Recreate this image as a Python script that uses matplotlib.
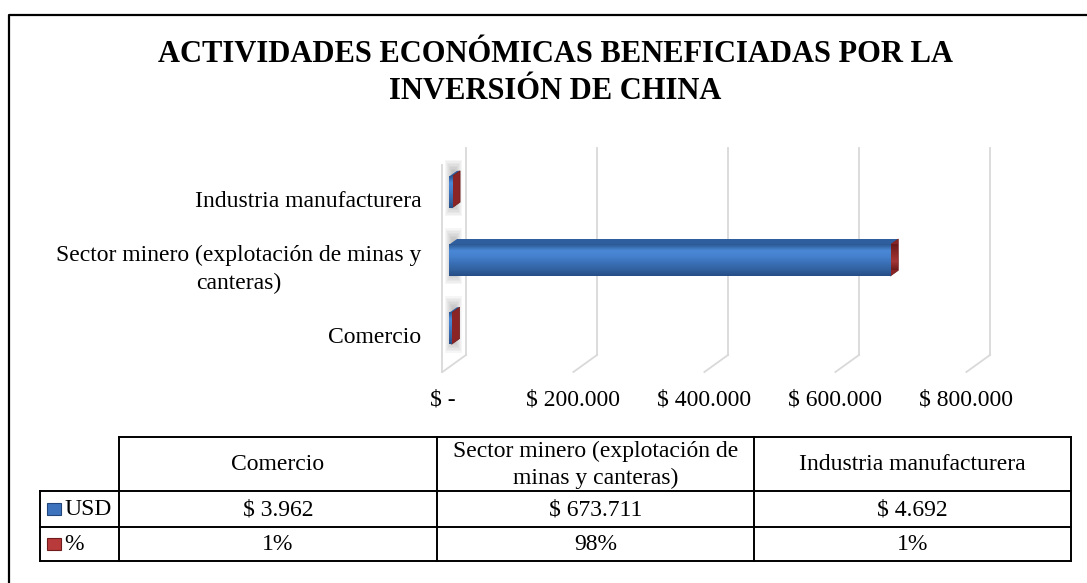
import numpy as np
import matplotlib.pyplot as plt
from matplotlib.patches import Polygon, Rectangle
from matplotlib.lines import Line2D
from matplotlib.colors import LinearSegmentedColormap

# data
categories = ['Comercio', 'Sector minero (explotación de minas y canteras)', 'Industria manufacturera']
axis_labels = ['Comercio', 'Sector minero (explotación de minas y\ncanteras)', 'Industria manufacturera']
table_headers = ['Comercio', 'Sector minero (explotación de\nminas y canteras)', 'Industria manufacturera']
usd = [3962, 673711, 4692]
pct = [1, 98, 1]
xticks = [0, 200000, 400000, 600000, 800000]
xtick_labels = ['$ -', '$ 200.000', '$ 400.000', '$ 600.000', '$ 800.000']
series_names = ['USD', '%']
title = 'ACTIVIDADES ECONÓMICAS BENEFICIADAS POR LA\nINVERSIÓN DE CHINA'

W, H = 1087, 583
plt.rcParams['font.family'] = ['Liberation Serif', 'DejaVu Serif']

fig = plt.figure(figsize=(W / 100, H / 100), dpi=100)


def fx(px):
    return px / W


def fy(py):
    return 1 - py / H


# outer frame (right / bottom edges fall outside the picture)
fig.add_artist(Line2D([fx(9), fx(9), 1.01], [-0.01, fy(15), fy(15)],
                      transform=fig.transFigure, color='black', lw=1.6))

fig.text(fx(555), fy(73), title, ha='center', va='center', fontsize=22,
         fontweight='bold', linespacing=1.4)

# --- 3D-looking bar chart ---
ax_l, ax_r, ax_t, ax_b = 466, 990, 148, 355
ax = fig.add_axes([fx(ax_l), fy(ax_b), (ax_r - ax_l) / W, (ax_b - ax_t) / H])
ax.axis('off')
xmin, xmax = 0, 800000
ymin, ymax = -0.566, 2.469
ax.set_xlim(xmin, xmax)
ax.set_ylim(ymin, ymax)
sx = (xmax - xmin) / (ax_r - ax_l)     # data units per pixel
sy = (ymax - ymin) / (ax_b - ax_t)

depth = (-23.6, 17)     # full floor depth in pixels (dx, dy down)
front = (-17, 12.2)
back = (-9, 6.5)
grid_c = '#D9D9D9'

for t in xticks:
    ax.plot([t, t], [ymin, ymax], color=grid_c, lw=1.3, clip_on=False, zorder=1)
    ax.plot([t, t + depth[0] * sx], [ymin, ymin - depth[1] * sy], color=grid_c,
            lw=1.3, clip_on=False, zorder=1)
ax.plot([depth[0] * sx] * 2, [ymin - depth[1] * sy, ymax - depth[1] * sy],
        color=grid_c, lw=1.3, clip_on=False, zorder=1)

for t, lab in zip(xticks, xtick_labels):
    ax.text(t + depth[0] * sx, ymin - (depth[1] + 28) * sy, lab, ha='center',
            va='center', fontsize=17)

bar_h = 0.46
face_cmap = LinearSegmentedColormap.from_list(
    'face', ['#2B5892', '#4A88D6', '#4480CC', '#3A6FB6', '#32629F', '#264D85'])
cap_cmap = LinearSegmentedColormap.from_list('cap', ['#6E1A1A', '#A33535', '#8A2626', '#6A1818'])
grad = np.linspace(0, 1, 64).reshape(-1, 1)

for i, v in enumerate(usd):
    y = i
    x0f, x1f = front[0] * sx, v + front[0] * sx
    x0b, x1b = back[0] * sx, v + back[0] * sx
    ybf, ytf = y - bar_h / 2 - front[1] * sy, y + bar_h / 2 - front[1] * sy
    ybb, ytb = y - bar_h / 2 - back[1] * sy, y + bar_h / 2 - back[1] * sy

    # soft shadow on the side wall, just left of the bar
    cy = y - 8 * sy
    for k in range(8):
        w_px = 3 + 2 * k
        h_half = bar_h / 2 + (2 + 1.5 * k) * sy
        ax.add_patch(Rectangle(((-13 - w_px / 2) * sx, cy - h_half), w_px * sx,
                               2 * h_half, facecolor='#707070', alpha=0.06,
                               lw=0, clip_on=False, zorder=2))

    ax.add_patch(Polygon([(x0f, ytf), (x1f, ytf), (x1b, ytb), (x0b, ytb)],
                         closed=True, facecolor='#2F5E9E', edgecolor='none',
                         clip_on=False, zorder=3))
    cap = Polygon([(x1f, ybf), (x1f, ytf), (x1b, ytb), (x1b, ybb)], closed=True,
                  facecolor='#8B2525', edgecolor='#6A1818', lw=0.5,
                  clip_on=False, zorder=3)
    ax.add_patch(cap)
    im = ax.imshow(grad[::-1], cmap=cap_cmap, aspect='auto',
                   extent=(x1f, x1b, ybb, ytf), zorder=3, clip_on=True)
    im.set_clip_path(cap)
    ax.imshow(grad, cmap=face_cmap, aspect='auto', extent=(x0f, x1f, ybf, ytf),
              zorder=4, clip_on=False)

    ax.text((421.5 - ax_l) * sx, y - (front[1] + 9) * sy, axis_labels[i],
            ha='right', va='center', fontsize=17, multialignment='center',
            linespacing=1.45)

ax.set_xlim(xmin, xmax)
ax.set_ylim(ymin, ymax)

# --- data table ---
tax = fig.add_axes([0, 0, 1, 1])
tax.set_xlim(0, W)
tax.set_ylim(H, 0)
tax.axis('off')
cols = [39.5, 119, 437, 754, 1071]
rows = [437, 491, 526.5, 561]
lw_t = 1.4
tax.plot([cols[1], cols[-1]], [rows[0]] * 2, color='black', lw=lw_t)
for r in rows[1:]:
    tax.plot([cols[0], cols[-1]], [r, r], color='black', lw=lw_t)
tax.plot([cols[0]] * 2, [rows[1], rows[-1]], color='black', lw=lw_t)
for c in cols[1:]:
    tax.plot([c, c], [rows[0], rows[-1]], color='black', lw=lw_t)

for j, head in enumerate(table_headers):
    cx = (cols[j + 1] + cols[j + 2]) / 2
    tax.text(cx, (rows[0] + rows[1]) / 2 + 1, head, ha='center', va='center',
             fontsize=17, linespacing=1.4)
    tax.text(cx, (rows[1] + rows[2]) / 2 + 1, '$ ' + f'{usd[j]:,}'.replace(',', '.'),
             ha='center', va='center', fontsize=17)
    tax.text(cx, (rows[2] + rows[3]) / 2 + 1, f'{pct[j]}%', ha='center',
             va='center', fontsize=17)

key_colors = [('#3D72BC', '#21467C'), ('#B83A3A', '#701C1C')]
for k, name in enumerate(series_names):
    cy = (rows[k + 1] + rows[k + 2]) / 2
    tax.add_patch(Rectangle((47, cy - 6), 14, 12, facecolor=key_colors[k][0],
                            edgecolor=key_colors[k][1], lw=0.8))
    tax.text(64, cy + 1, name, ha='left', va='center', fontsize=17)

fig.savefig('out.png', dpi=100)
